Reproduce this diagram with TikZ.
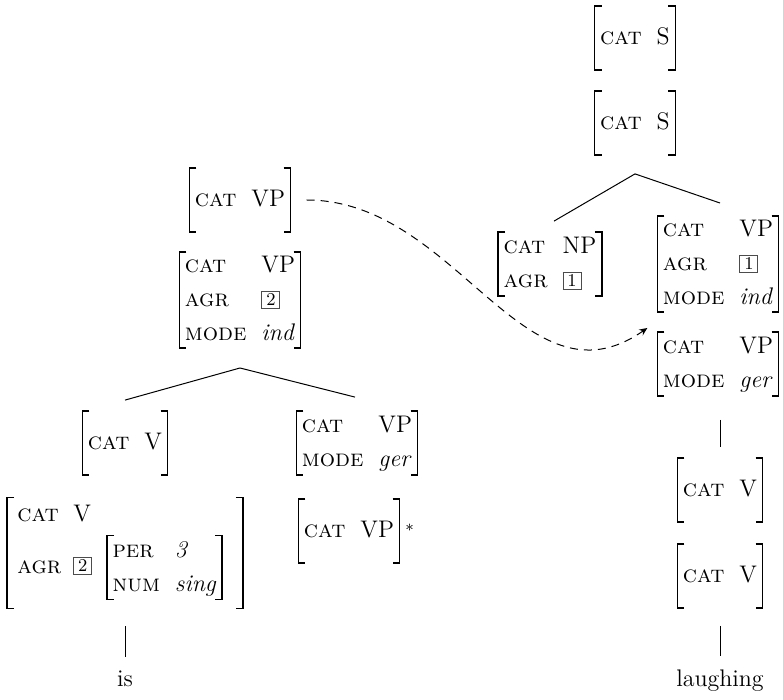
\documentclass[tikz,border=0pt]{standalone}
\usetikzlibrary{arrows.meta,calc}
\newcommand\avmtab[1]{\begin{tabular}{@{}l@{\hspace{7.5pt}}l@{}}#1\end{tabular}}
\newcommand\tagbox[1]{{\setlength\fboxsep{0pt}\setlength\fboxrule{0.4pt}\textcolor{black!70}{\fbox{\makebox[8.6pt]{\rule[-0.6pt]{0pt}{8pt}\raisebox{0.6pt}{\textcolor{black}{\fontsize{9}{9}\selectfont #1}}}}}}}
\newcommand\brk[1]{\draw[brk] ([xshift=3.5pt]#1.north west) -- (#1.north west) -- (#1.south west) -- ([xshift=3.5pt]#1.south west)
  ([xshift=-3.5pt]#1.north east) -- (#1.north east) -- (#1.south east) -- ([xshift=-3.5pt]#1.south east);}
\begin{document}
\begin{tikzpicture}[x=0.5pt,y=-0.5pt,
  font=\fontsize{12}{13}\selectfont,
  avm/.style={inner xsep=2.6pt, inner ysep=-1.75pt, minimum height=31.5pt},
  brk/.style={line width=0.7pt},
  tree/.style={line width=0.5pt},
  word/.style={inner sep=0pt, anchor=base},
  link/.style={dash pattern=on 4pt off 3pt, line width=0.5pt, -{Stealth[length=4pt,width=3.5pt]}}]
\renewcommand\arraystretch{1.31}
\useasboundingbox (0,0) rectangle (783,700);
% right tree
\node[avm] (S1) at (635,38) {\avmtab{\textsc{cat} & S}};
\node[avm] (S2) at (635,123) {\avmtab{\textsc{cat} & S}};
\node[avm] (NP) at (550,264) {\avmtab{\textsc{cat} & NP\\ \textsc{agr} & \tagbox{1}}};
\node[avm] (VPa) at (718,264) {\avmtab{\textsc{cat} & VP\\ \textsc{agr} & \tagbox{1}\\ \textsc{mode} & \textit{ind}}};
\node[avm] (VPg) at (718,364) {\avmtab{\textsc{cat} & VP\\ \textsc{mode} & \textit{ger}}};
\node[avm] (V1) at (720,490) {\avmtab{\textsc{cat} & V}};
\node[avm] (V2) at (720,576) {\avmtab{\textsc{cat} & V}};
\node[word] (laughing) at (720,687) {laughing};
% left tree
\node[avm] (VPtop) at (240,200) {\avmtab{\textsc{cat} & VP}};
\node[avm] (VPm) at (240,300) {\avmtab{\textsc{cat} & VP\\ \textsc{agr} & \tagbox{2}\\ \textsc{mode} & \textit{ind}}};
\node[avm] (Vl) at (125,443) {\avmtab{\textsc{cat} & V}};
\node[avm] (gerL) at (357,443) {\avmtab{\textsc{cat} & VP\\ \textsc{mode} & \textit{ger}}};
\node[avm] (VPstar) at (349,531) {\avmtab{\textsc{cat} & VP}};
\node[anchor=base west, inner sep=0pt] (star) at (405,540) {$^{*}$};
% big V box
\node[inner sep=0pt, minimum width=117.5pt, minimum height=55pt] (bigV) at (125,553) {};
\node[anchor=base west, inner sep=0pt] (blab) at (17,522) {\begin{tabular}[t]{@{}l@{\hspace{6pt}}l@{}}\textsc{cat} & V\\[8.5pt] \textsc{agr} & \tagbox{2}\end{tabular}};
\node[avm, anchor=west] (inner) at (107,567.5) {\avmtab{\textsc{per} & \textit{3}\\ \textsc{num} & \textit{sing}}};
\node[word] (is) at (125,687) {is};
% brackets
\foreach \n in {S1,S2,NP,VPa,VPg,V1,V2,VPtop,VPm,Vl,gerL,VPstar,bigV,inner} {\brk{\n}}
% tree lines
\draw[tree] ([yshift=-9.5pt]S2.south) -- ([xshift=2pt,yshift=5.5pt]NP.north);
\draw[tree] ([yshift=-9.5pt]S2.south) -- ([xshift=1pt,yshift=6.5pt]VPa.north);
\draw[tree, shorten <=12pt, shorten >=5.5pt] (V1.north |- VPg.south) -- (V1.north);
\draw[tree, shorten <=9pt, shorten >=7pt] (V2.south) -- (laughing.north);
\draw[tree] ([yshift=-10pt]VPm.south) -- ([yshift=5.5pt]Vl.north);
\draw[tree] ([yshift=-10pt]VPm.south) -- ([xshift=-1pt,yshift=7pt]gerL.north);
\draw[tree, shorten <=9pt, shorten >=7pt] (bigV.south) -- (is.north);
% dashed link
\coordinate (dstart) at ([xshift=8pt]VPtop.east);
\coordinate (dend) at ([xshift=-5pt,yshift=-8pt]VPa.south west);
\draw[link] (dstart) .. controls +(150,0) and +(-123,86) .. (dend);
\end{tikzpicture}
\end{document}
